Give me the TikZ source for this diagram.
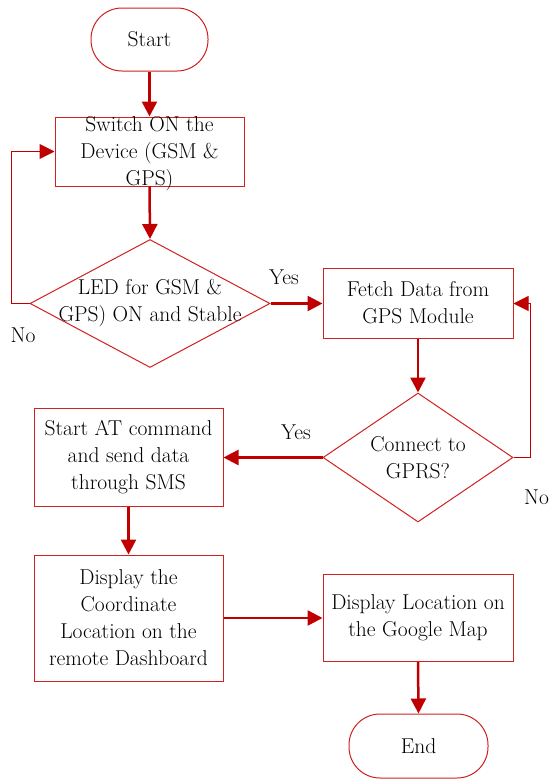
\documentclass[tikz,border=0pt]{standalone}
\usetikzlibrary{arrows.meta,shapes.geometric}
\definecolor{fcred}{HTML}{C00000}
\definecolor{boxred}{HTML}{D02020}
\tikzset{
  txt/.style={font=\fontsize{21.5}{27}\selectfont, align=center, inner sep=0pt},
  pbox/.style={draw=boxred, line width=1pt, rectangle, inner sep=0pt},
  term/.style={draw=boxred, line width=1pt, rectangle, rounded corners=31pt, inner sep=0pt},
  dec/.style={draw=boxred, line width=1pt, diamond, inner sep=0pt},
  flow/.style={draw=fcred, line width=2.5pt, -{Triangle[length=15pt,width=15pt]}},
  back/.style={draw=fcred, line width=1pt, -{Triangle[length=15pt,width=15pt]}},
  lbl/.style={font=\fontsize{21.5}{24}\selectfont, inner sep=0pt}
}
\begin{document}
\begin{tikzpicture}[x=1pt,y=-1pt]
\useasboundingbox (0,0) rectangle (549,779);
% shapes
\node[term, minimum width=117pt, minimum height=63pt] (start) at (149.5,39.5) {};
\node[pbox, minimum width=189pt, minimum height=69pt] (sw) at (149.5,151.5) {};
\node[dec, minimum width=240pt, minimum height=128pt] (led) at (150,303.5) {};
\node[pbox, minimum width=190pt, minimum height=70pt] (fetch) at (418,303.5) {};
\node[dec, minimum width=190pt, minimum height=129pt] (gprs) at (418,457.5) {};
\node[pbox, minimum width=189pt, minimum height=98pt] (at) at (128.5,457.5) {};
\node[pbox, minimum width=189pt, minimum height=126pt] (disp) at (128.5,618) {};
\node[pbox, minimum width=190pt, minimum height=87pt] (gmap) at (418,618) {};
\node[term, minimum width=139pt, minimum height=64pt] (end) at (418.5,746) {};
% texts
\node[txt] (tstart) at (start) {Start};
\node[txt] (tsw) at (149.5,154) {Switch ON the\\Device (GSM \&\\GPS)};
\node[txt] (tled) at (150,303) {LED for GSM \&\\GPS) ON and Stable};
\node[txt] (tfetch) at (418,303) {Fetch Data from\\GPS Module};
\node[txt] (tgprs) at (418,458) {Connect to\\GPRS?};
\node[txt] (tat) at (128.5,457) {Start AT command\\and send data\\through SMS};
\node[txt] (tdisp) at (128.5,618) {Display the\\Coordinate\\Location on the\\remote Dashboard};
\node[txt] (tgmap) at (418,617.5) {Display Location on\\the Google Map};
\node[txt] (tend) at (end) {End};
% labels
\node[lbl] (no1) at (23,335) {No};
\node[lbl] (yes1) at (284,277) {Yes};
\node[lbl] (yes2) at (296,432) {Yes};
\node[lbl, anchor=west] (no2) at (524,497) {No};
% connectors
\coordinate (c1) at (11,303.5);
\coordinate (c2) at (530,457.5);
\draw[flow] (start.south) -- (sw.north);
\draw[flow] (sw.south) -- (led.north);
\draw[back] (led.west) -- (c1) |- (sw.west);
\draw[flow] (led.east) -- (fetch.west);
\draw[flow] (fetch.south) -- (gprs.north);
\draw[back] (gprs.east) -- (c2) |- (fetch.east);
\draw[flow] (gprs.west) -- (at.east);
\draw[flow] (at.south) -- (disp.north);
\draw[flow] (disp.east) -- (gmap.west);
\draw[flow] (gmap.south) -- (end.north);
\end{tikzpicture}
\end{document}
